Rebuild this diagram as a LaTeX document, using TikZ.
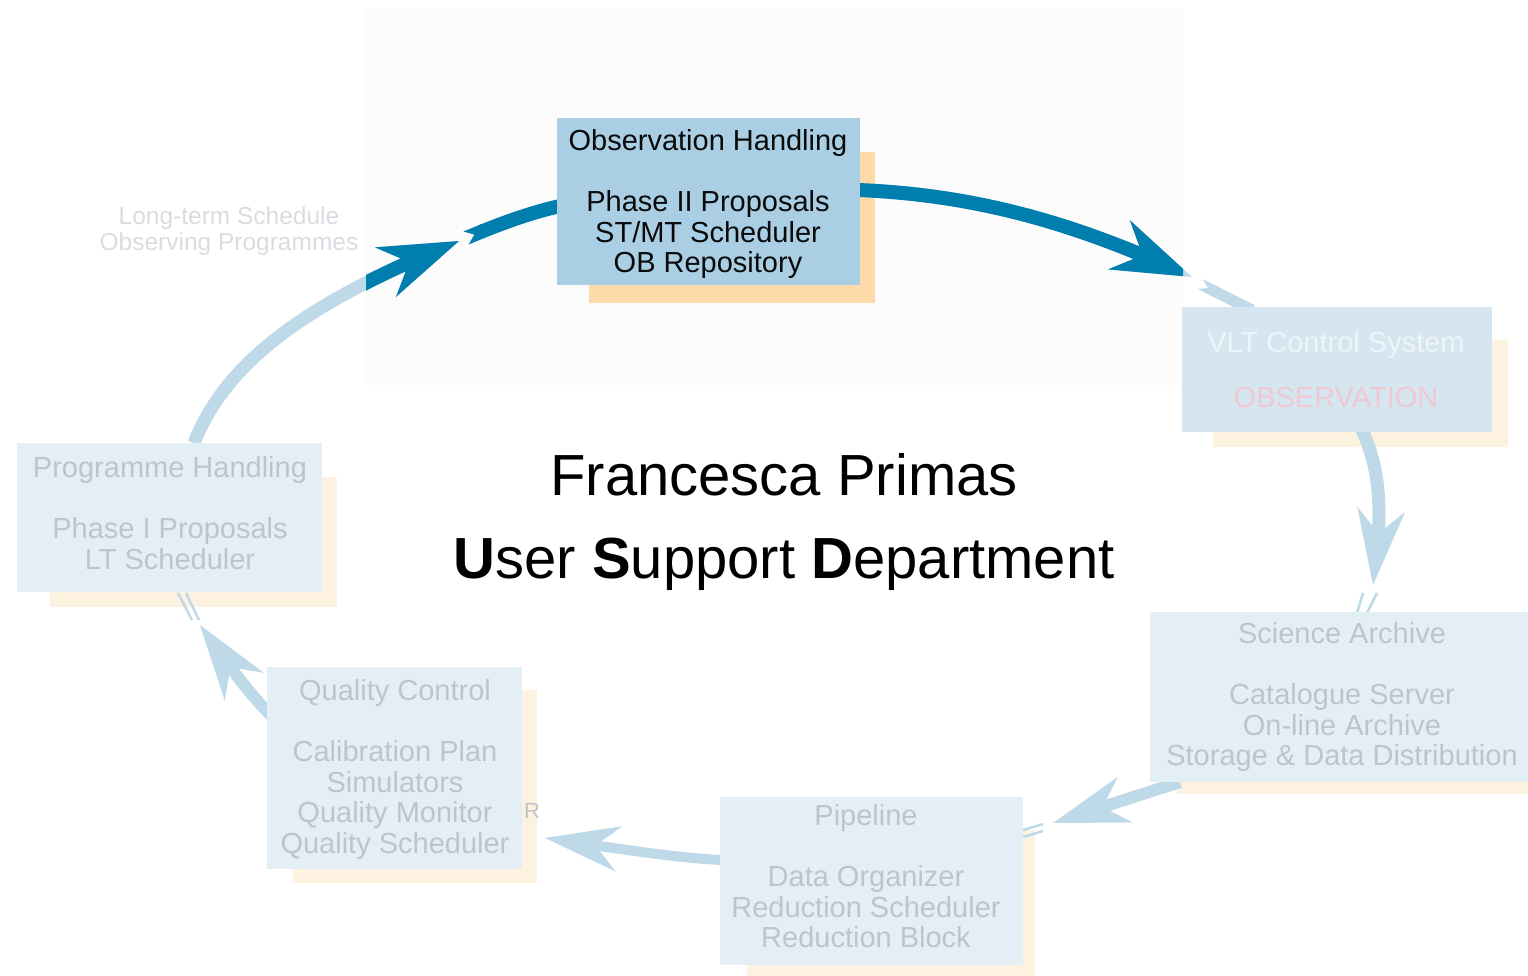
\documentclass[tikz,border=0pt]{standalone}
\usepackage{fontspec}
\setmainfont{Liberation Sans}
\usetikzlibrary{arrows.meta,bending}
\definecolor{darkarrow}{RGB}{0,126,174}
\definecolor{fadearrow}{RGB}{190,217,232}
\definecolor{hlbox}{RGB}{170,207,228}
\definecolor{hlshadow}{RGB}{253,219,168}
\definecolor{fbox}{RGB}{228,238,245}
\definecolor{vltbox}{RGB}{214,230,241}
\definecolor{fshadow}{RGB}{253,241,224}
\definecolor{ftext}{RGB}{192,196,201}
\definecolor{lttext}{RGB}{216,221,226}
\definecolor{vlttext}{RGB}{238,244,248}
\definecolor{obstext}{RGB}{240,200,210}
\definecolor{hlbg}{RGB}{252,252,252}
\definecolor{maintext}{RGB}{10,10,10}
\begin{document}
\begin{tikzpicture}[x=1pt,y=-1pt,
  boxtext/.style={anchor=north,inner sep=0pt,align=center,font=\fontsize{29pt}{30.5pt}\selectfont},
  fadetext/.style={boxtext,text=ftext},
  fadebox/.style={fill=fbox,draw=none,inner sep=0pt},
  hlboxst/.style={fill=hlbox,draw=none,inner sep=0pt},
  farrow/.style={draw=fadearrow,line width=12pt},
  darrow/.style={draw=darkarrow,line width=14pt},
  bighead/.style={-{Stealth[length=80pt,width=54pt,inset=26pt,line width=0pt]}},
  midhead/.style={-{Stealth[length=76pt,width=48pt,inset=24pt,line width=0pt]}},
  tailcap/.style={{Triangle Cap[reversed,length=9pt]}-},
  marks/.style={draw=fadearrow,line width=2.5pt}
]
\useasboundingbox (0,0) rectangle (1528,976);
\fill[white] (0,0) rectangle (1528,976);
\fill[hlbg] (366,8) rectangle (1183,385);

% coordinates for connector ends
\coordinate (phtop) at (194,443);
\coordinate (s6tip) at (459,241);
\coordinate (s7a) at (466,238);
\coordinate (obsleft) at (560,206);
\coordinate (obsright) at (858,190);
\coordinate (s1tip) at (1192,277);
\coordinate (s1b) at (1200,284);
\coordinate (vlttop) at (1252,310);
\coordinate (vltbot) at (1360,425);
\coordinate (s2tip) at (1373,585);
\coordinate (sabot) at (1180,782);
\coordinate (s3tip) at (1053,823);
\coordinate (plleft) at (722,860);
\coordinate (s4tip) at (545,838);
\coordinate (qctop) at (272,716);
\coordinate (s5tip) at (200,625);

% shadows
\fill[hlshadow] (589,152) rectangle (875,303);
\fill[fshadow] (1213,340) rectangle (1508,447);
\fill[fshadow] (1177,640) rectangle (1530,794);
\fill[fshadow] (747,830) rectangle (1035,980);
\fill[fshadow] (293,690) rectangle (537,883);
\fill[fshadow] (50,477) rectangle (337,607);

% faded arrows
\draw[farrow,line width=13pt,bighead] (phtop) .. controls (225,365) and (300,305) .. (s6tip);
\draw[farrow,line width=14pt,bighead] (obsright) .. controls (980,195) and (1080,225) .. (s1tip);
\draw[farrow,line width=11pt,tailcap] (s1b) -- (vlttop);
\draw[farrow,line width=13pt,midhead] (vltbot) .. controls (1378,465) and (1385,500) .. (s2tip);
\draw[marks] (1377,593) -- (1367,613);
\draw[marks] (1363,593) -- (1357,613);
\draw[farrow,line width=12pt,midhead] (sabot) -- (s3tip);
\draw[marks] (1023,830) -- (1043,824);
\draw[marks] (1023,837) -- (1043,831);
\draw[farrow,line width=10pt,-{Stealth[length=75pt,width=46pt,inset=24pt,line width=0pt]}] (plleft) .. controls (680,858) and (640,852) .. (s4tip);
\draw[farrow,line width=12pt,midhead] (qctop) .. controls (255,700) and (235,675) .. (s5tip);
\draw[marks] (178,593) -- (192,620);
\draw[marks] (186,593) -- (199,620);

% highlighted (dark) parts
\begin{scope}
\clip (366,0) rectangle (1183,385);
\draw[darrow,bighead] (phtop) .. controls (225,365) and (300,305) .. (s6tip);
\draw[darrow,bighead] (obsright) .. controls (980,195) and (1080,225) .. (s1tip);
\draw[darrow,line width=14pt,tailcap] (s7a) .. controls (495,226) and (525,214) .. (obsleft);
\end{scope}

% boxes
\node[hlboxst,minimum width=303pt,minimum height=167pt] (obs) at (708.5,201.5) {};
\node[fill=vltbox,inner sep=0pt,minimum width=310pt,minimum height=125pt] (vlt) at (1337,369.5) {};
\node[fadebox,minimum width=380pt,minimum height=170pt] (sa) at (1340,697) {};
\node[fadebox,minimum width=303pt,minimum height=168pt] (pl) at (871.5,881) {};
\node[fadebox,minimum width=255pt,minimum height=202pt] (qc) at (394.5,768) {};
\node[fadebox,minimum width=305pt,minimum height=149pt] (ph) at (169.5,517.5) {};

% texts
\node[boxtext,text=maintext] (obst) at (708,129) {Observation Handling\\[31pt]Phase II Proposals\\ST/MT Scheduler\\OB Repository};
\node[boxtext,anchor=base,text=vlttext] (vltt) at (1336,352) {VLT Control System};
\node[boxtext,anchor=base,text=obstext] (vltobs) at (1336,407) {OBSERVATION};
\node[fadetext] (sat) at (1342,622) {Science Archive\\[31pt]Catalogue Server\\On-line Archive\\Storage \& Data Distribution};
\node[fadetext] (plt) at (866,804) {Pipeline\\[31pt]Data Organizer\\Reduction Scheduler\\Reduction Block};
\node[fadetext] (qct) at (395,679) {Quality Control\\[31pt]Calibration Plan\\Simulators\\Quality Monitor\\Quality Scheduler};
\node[fadetext] (pht) at (170,456) {Programme Handling\\[31pt]Phase I Proposals\\LT Scheduler};
\node[anchor=north,inner sep=0pt,align=center,text=lttext,font=\fontsize{24.5pt}{25.5pt}\selectfont] (ltt) at (229,207) {Long-term Schedule\\Observing Programmes};
\node[anchor=base,inner sep=0pt,text=ftext,font=\fontsize{22pt}{24pt}\selectfont] (rr) at (532,818) {R};

\node[anchor=base,inner sep=0pt,text=black,font=\fontsize{58pt}{62pt}\selectfont] (name) at (784,495) {Francesca Primas};
\node[anchor=base,inner sep=0pt,text=black,font=\fontsize{58pt}{62pt}\selectfont] (dept) at (784,578) {\textbf{U}ser \textbf{S}upport \textbf{D}epartment};
\end{tikzpicture}
\end{document}
